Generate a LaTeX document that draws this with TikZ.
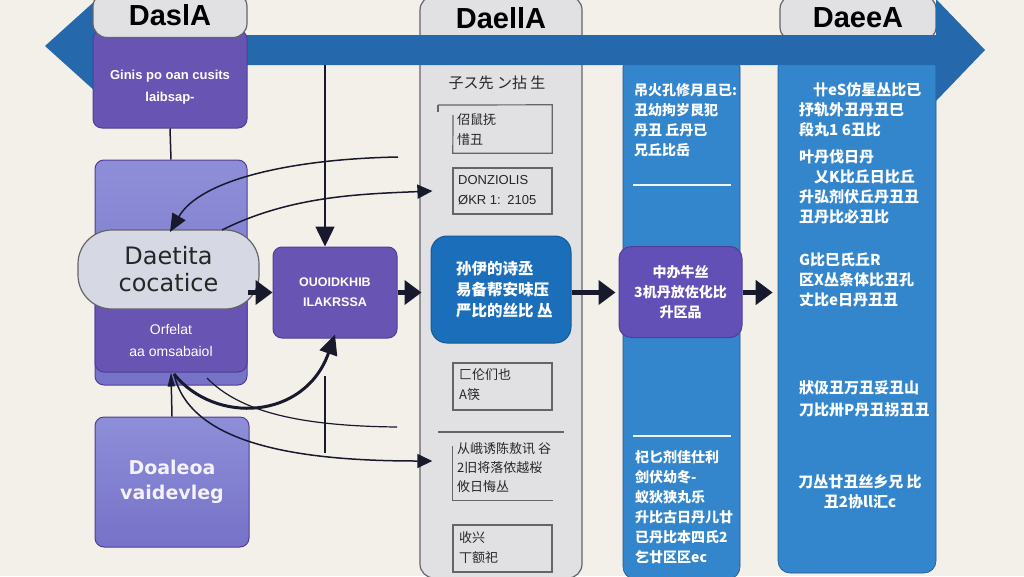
\documentclass[tikz,border=0pt]{standalone}
\usepackage{fontspec}
\setmainfont{Liberation Sans}
\newfontfamily\dvs{DejaVu Sans}
\newfontfamily\cjk{Noto Sans CJK SC}
\usetikzlibrary{arrows.meta}
\definecolor{bg}{RGB}{243,240,234}
\definecolor{bandc}{RGB}{38,104,172}
\definecolor{colblue}{RGB}{52,134,204}
\definecolor{boxblue}{RGB}{27,110,185}
\definecolor{purp}{RGB}{104,84,178}
\definecolor{purpline}{RGB}{80,62,150}
\definecolor{lpurpA}{RGB}{142,142,216}
\definecolor{lpurpB}{RGB}{118,114,200}
\definecolor{gfill}{RGB}{225,225,228}
\definecolor{gline}{RGB}{100,100,106}
\definecolor{pillc}{RGB}{214,217,228}
\definecolor{navy}{RGB}{25,25,45}
\newcommand\hdrfont{\bfseries\fontsize{29}{30}\selectfont}
\newcommand\cjkW{\cjk\bfseries\fontsize{14}{20}\selectfont}
\newcommand\cjkD{\cjk\fontsize{13}{20}\selectfont}
\begin{document}
\begin{tikzpicture}[x=1pt,y=-1pt,
  colg/.style={draw=gline,fill=gfill,line width=1.2pt,rounded corners=14pt,inner sep=0pt},
  colb/.style={fill=colblue,draw=bandc!80!black,line width=0.6pt,rounded corners=12pt,inner sep=0pt},
  purpbox/.style={fill=purp,draw=purpline,line width=1pt,rounded corners=9pt,inner sep=0pt},
  lpbox/.style={top color=lpurpA,bottom color=lpurpB,draw=purpline,line width=1pt,rounded corners=9pt,inner sep=0pt},
  gbox/.style={draw=gline,line width=1.2pt,inner sep=0pt},
  wtxt/.style={text=white,inner sep=0pt,align=left,font=\cjkW},
  dtxt/.style={text=black!85,inner sep=0pt,align=left,font=\cjkD},
  conn/.style={draw=navy,line width=1.5pt},
  bigarrow/.style={draw=navy,line width=5pt,-{Triangle[length=17pt,width=24pt]}},
  sep/.style={draw=white!92!colblue,line width=2pt}]
\useasboundingbox (0,0) rectangle (1024,576);
\fill[bg] (0,0) rectangle (1024,576);

% column 2 (gray)
\node[colg,minimum width=162,minimum height=582] (col2) at (501,287) {};
\node[inner sep=0pt,font=\hdrfont] (h2) at (501,18) {DaellA};
% column 4 tab
\node[colg,minimum width=156,minimum height=46,font=\hdrfont] (tab4) at (858,18) {DaeeA};
% columns 3 and 4 bodies
\node[colb,minimum width=117,minimum height=524] (col3) at (681.5,317) {};
\node[colb,minimum width=158,minimum height=518] (col4) at (857,314) {};

% band arrow
\fill[bandc] (45,46) -- (96,0) -- (96,35) -- (936,35) -- (936,-1) -- (985,50) -- (936,101) -- (936,65) -- (96,65) -- (96,92) -- cycle;

% column 1
\node[purpbox,minimum width=154,minimum height=98] (c1box) at (170,79) {};
\node[colg,minimum width=154,minimum height=45,font=\hdrfont] (h1) at (170,15) {DaslA};
\node[text=white,inner sep=0pt,align=center,font=\bfseries\fontsize{13}{22}\selectfont] (c1txt) at (170,87) {Ginis po oan cusits\\laibsap-};

% left column
\node[lpbox,minimum width=152,minimum height=225] (lback) at (171,272.5) {};
\node[purpbox,minimum width=152,minimum height=122] (lfront) at (171,311) {};
\node[fill=pillc,draw=gline,line width=1.2pt,rounded corners=34pt,minimum width=181,minimum height=79,inner sep=0pt,align=center,font=\dvs\fontsize{24}{27}\selectfont,text=black!85] (pill) at (168.5,269.5) {Daetita\\cocatice};
\node[text=white,inner sep=0pt,align=center,font=\fontsize{14}{22}\selectfont] (lftxt) at (171,340) {Orfelat\\aa omsabaiol};

% middle purple box
\node[purpbox,minimum width=124,minimum height=91,text=white,align=center,font=\bfseries\fontsize{12.5}{20}\selectfont] (p1) at (335,292.5) {OUOIDKHIB\\ILAKRSSA};

% bottom-left box
\node[lpbox,minimum width=154,minimum height=130,text=white!92!purp,align=center,font=\dvs\bfseries\fontsize{19}{25}\selectfont] (bbox) at (172,482) {Doaleoa\\vaidevleg};

% column 2 inner
\node[dtxt,font=\cjk\fontsize{15}{18}\selectfont] (t2) at (497,83) {子ス先 ン拈 生};
\node[inner sep=0pt,minimum width=99,minimum height=48] (b1) at (502.5,129) {};
\draw[gbox] (438,105) -- (b1.north east) -- (b1.south east) -- (b1.south west) -- (453,115);
\draw[gbox] (438,105) -- (438,112);
\node[dtxt,anchor=west] (b1t) at (457,130) {佋鼠抚\\惜丑};
\node[gbox,minimum width=99,minimum height=46] (b2) at (502.5,191) {};
\node[dtxt,anchor=west,font=\fontsize{13}{20}\selectfont] (b2t) at (458,190) {DONZIOLIS\\ØKR 1:\enspace 2105};
\node[fill=boxblue,draw=boxblue!80!black,line width=1pt,rounded corners=16pt,minimum width=140,minimum height=107,inner sep=0pt] (bb) at (501,289.5) {};
\node[wtxt,anchor=west,font=\cjk\bfseries\fontsize{15.5}{21}\selectfont] (bbt) at (456,290) {孙伊的诗丞\\易备帮安味压\\严比的丝比 丛};
\node[gbox,minimum width=99,minimum height=47] (b3) at (502.5,386.5) {};
\node[dtxt,anchor=west] (b3t) at (459,385) {匚伦们也\\A筷};
\draw[gbox] (438,432) -- (564,432);
\node[inner sep=0pt,minimum width=100,minimum height=54] (b4) at (502.5,473) {};
\draw[gbox] (b4.north west) -- (b4.south west) -- (b4.south east);
\node[dtxt,anchor=west,font=\cjk\fontsize{13}{19}\selectfont] (b4t) at (457,468) {从峨诱陈敖讯 谷\\2旧将落侬越桜\\攸日悔丛};
\node[gbox,minimum width=99,minimum height=47] (b5) at (502.5,548.5) {};
\node[dtxt,anchor=west] (b5t) at (459,548) {收兴\\丅额祀};

% column 3 inner
\node[wtxt,anchor=west] (c3a) at (634,120) {吊火孔修月且已:\\丑幼拘岁艮犯\\丹丑 丘丹已\\兄丘比岳};
\draw[sep] (633,185) -- (731,185);
\node[purpbox,fill=purp!95!blue,rounded corners=12pt,minimum width=123,minimum height=91,wtxt,align=center] (p3) at (680.5,292) {中办牛丝\\3机丹放佐化比\\升区品};
\draw[sep] (633,436) -- (731,436);
\node[wtxt,anchor=west] (c3b) at (635,507.5) {杞匕剂佳仕利\\剑伏幼冬-\\蚁狄狭丸乐\\升比古日丹儿廿\\已丹比本四氏2\\乞廿区区ec};

% column 4 inner
\node[wtxt,anchor=west,font=\cjk\bfseries\fontsize{15}{20}\selectfont] (c4a) at (799,110) {\hspace{14pt}卄eS仿星丛比已\\抒轨外丑丹丑巳\\段丸1 6丑比};
\node[wtxt,anchor=west,font=\cjk\bfseries\fontsize{15}{20}\selectfont] (c4b) at (799,187) {叶丹伐日丹\\\hspace{15pt}乂K比丘日比丘\\升弘剂伏丘丹丑丑\\丑丹比必丑比};
\node[wtxt,anchor=west,font=\cjk\bfseries\fontsize{15}{20}\selectfont] (c4c) at (799,280) {G比巳氏丘R\\区X丛条体比丑孔\\丈比e日丹丑丑};
\node[wtxt,anchor=west,font=\cjk\bfseries\fontsize{15}{22}\selectfont] (c4d) at (799,399) {狀伋丑万丑妥丑山\\刀比卅P丹丑拐丑丑};
\node[wtxt,align=center,font=\cjk\bfseries\fontsize{15}{20}\selectfont] (c4e) at (860,492) {刀丛廿丑丝乡兄 比\\丑2协ll汇c};

% connectors
\coordinate (bandA) at (325,65);
\coordinate (cA) at (398,157);
\coordinate (pillTR) at (222,230);
\coordinate (lfB) at (174,374);
\coordinate (lfB2) at (207,378);
\coordinate (thinEnd) at (397,427);
\coordinate (vA) at (325,376);
\coordinate (vB) at (325,453);
\draw[conn] (c1box.south) -- (lback.north);
\draw[conn,-{Triangle[length=20pt,width=19pt]}] (bandA) -- (bandA |- p1.north);
\draw[conn,-{Triangle[length=18pt,width=15pt]}] (cA) .. controls (290,159) and (200,180) .. (170,232);
\draw[conn,-{Triangle[length=15pt,width=14pt]}] (pillTR) .. controls (290,196) and (360,194) .. ([xshift=-20pt]b2.west);
\draw[bigarrow] ([xshift=-12pt]pill.east |- p1.west) -- (p1.west);
\draw[bigarrow] (p1.east) -- ([xshift=-9pt]bb.west |- p1.east);
\draw[bigarrow] (bb.east |- p1.east) -- ([xshift=-3pt]p3.west |- p1.east);
\draw[bigarrow] (p3.east |- p1.east) -- ([xshift=-5pt]col4.west |- p1.east);
\draw[conn,line width=3pt,-{Triangle[length=20pt,width=18pt]}] (lfB) .. controls (215,425) and (305,420) .. ([yshift=4pt]p1.south);
\draw[conn,line width=1.2pt] (lfB2) .. controls (240,412) and (300,426) .. (thinEnd);
\draw[conn,line width=1.2pt] (vA) -- (vB);
\draw[conn,-{Triangle[length=15pt,width=14pt]}] (lfB) .. controls (190,445) and (300,461) .. ([xshift=-20pt]b4.west |- 0,461);
\draw[conn,-{Triangle[length=14pt,width=7pt]}] (bbox.north) -- (lfront.south);
\end{tikzpicture}
\end{document}
